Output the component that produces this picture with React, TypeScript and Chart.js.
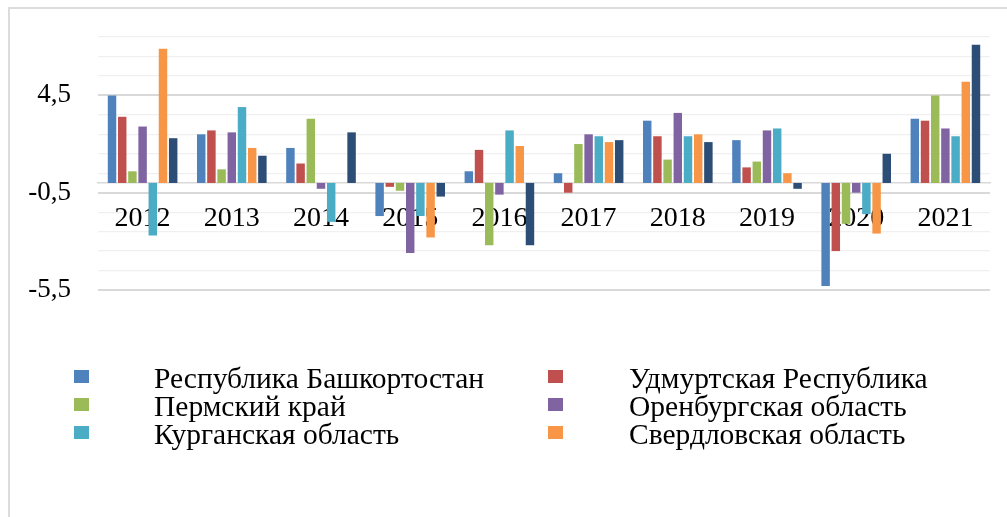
import React, { useEffect, useRef } from "react";
import { Chart, registerables } from "chart.js";

Chart.register(...registerables);

const years = ["2012", "2013", "2014", "2015", "2016", "2017", "2018", "2019", "2020", "2021"];

const seriesNames = [
  "Республика Башкортостан",
  "Удмуртская Республика",
  "Пермский край",
  "Оренбургская область",
  "Курганская область",
  "Свердловская область",
  "Челябинская область",
];

const bashkortostan = [4.5, 2.5, 1.8, -1.7, 0.6, 0.5, 3.2, 2.2, -5.3, 3.3];
const udmurtia = [3.4, 2.7, 1.0, -0.2, 1.7, -0.5, 2.4, 0.8, -3.5, 3.2];
const perm = [0.6, 0.7, 3.3, -0.4, -3.2, 2.0, 1.2, 1.1, -2.1, 4.5];
const orenburg = [2.9, 2.6, -0.3, -3.6, -0.6, 2.5, 3.6, 2.7, -0.5, 2.8];
const kurgan = [-2.7, 3.9, -2.0, -1.7, 2.7, 2.4, 2.4, 2.8, -1.6, 2.4];
const sverdlovsk = [6.9, 1.8, 0, -2.8, 1.9, 2.1, 2.5, 0.5, -2.6, 5.2];
const chelyabinsk = [2.3, 1.4, 2.6, -0.7, -3.2, 2.2, 2.1, -0.3, 1.5, 7.1];

const seriesValues = [bashkortostan, udmurtia, perm, orenburg, kurgan, sverdlovsk, chelyabinsk];
const seriesColors = ["#4F81BD", "#C0504D", "#9BBB59", "#8064A2", "#4BACC6", "#F79646", "#2C4D75"];
const legendCount = 6;

const yMin = -5.5;
const yMax = 7.5;
const yStep = 1;
const majorStep = 5;

const FONT = '"Liberation Serif", "Times New Roman", serif';

function isMajor(v: number) {
  const r = (((v - yMin) % majorStep) + majorStep) % majorStep;
  return Math.abs(r) < 1e-6 || Math.abs(r - majorStep) < 1e-6;
}

export default function App() {
  const ref = useRef<HTMLCanvasElement | null>(null);

  useEffect(() => {
    if (!ref.current) return;
    const chart = new Chart(ref.current, {
      type: "bar",
      data: {
        labels: years,
        datasets: seriesValues.map((vals, i) => ({
          label: seriesNames[i],
          data: vals,
          backgroundColor: seriesColors[i],
          borderWidth: 0,
          barPercentage: 0.83,
          categoryPercentage: 0.8,
        })),
      },
      options: {
        animation: false,
        responsive: false,
        devicePixelRatio: 1,
        layout: { padding: { left: 0, right: 17, top: 37, bottom: 227 } },
        plugins: { legend: { display: false }, tooltip: { enabled: false } },
        scales: {
          x: {
            position: { y: 0 } as any,
            z: 1,
            grid: { display: false },
            border: { display: true, color: "#d9d9d9", width: 1.5 },
            ticks: {
              color: "#000",
              font: { family: FONT, size: 28 },
              padding: 11,
              maxRotation: 0,
              autoSkip: false,
            },
          },
          y: {
            min: yMin,
            max: yMax,
            afterFit: (scale: any) => {
              scale.width = 98;
            },
            border: { display: false },
            grid: {
              drawTicks: true,
              tickLength: 27,
              tickColor: "rgba(0,0,0,0)",
              color: (ctx: any) => (isMajor(ctx.tick?.value ?? 0) ? "#d9d9d9" : "#f0f0f0"),
              lineWidth: (ctx: any) => (isMajor(ctx.tick?.value ?? 0) ? 2 : 1.2),
            },
            ticks: {
              stepSize: yStep,
              autoSkip: false,
              color: "#000",
              font: { family: FONT, size: 27 },
              padding: 0,
              callback: (v: any) => (isMajor(Number(v)) ? String(v).replace(".", ",") : ""),
            },
          },
        },
      },
    });
    return () => chart.destroy();
  }, []);

  const colX = [74, 548];
  const textX = [154, 629];
  const rowTop = [370, 398, 426];

  return (
    <div>
      <div
        style={{
          position: "fixed",
          left: 8,
          top: 7,
          width: 1010,
          height: 520,
          borderLeft: "2px solid #dcdcdc",
          borderTop: "2px solid #dcdcdc",
          boxSizing: "border-box",
        }}
      />
      <canvas
        ref={ref}
        width={1007}
        height={517}
        style={{ position: "fixed", left: 0, top: 0, width: 1007, height: 517 }}
      />
      {seriesNames.slice(0, legendCount).map((name, i) => {
        const col = i % 2;
        const row = Math.floor(i / 2);
        return (
          <React.Fragment key={name}>
            <div
              style={{
                position: "fixed",
                left: colX[col],
                top: rowTop[row],
                width: 15,
                height: 13,
                background: seriesColors[i],
              }}
            />
            <div
              style={{
                position: "fixed",
                left: textX[col],
                top: rowTop[row] - 6,
                fontFamily: FONT,
                fontSize: 29.5,
                lineHeight: "28.5px",
                color: "#000",
                whiteSpace: "nowrap",
              }}
            >
              {name}
            </div>
          </React.Fragment>
        );
      })}
    </div>
  );
}
